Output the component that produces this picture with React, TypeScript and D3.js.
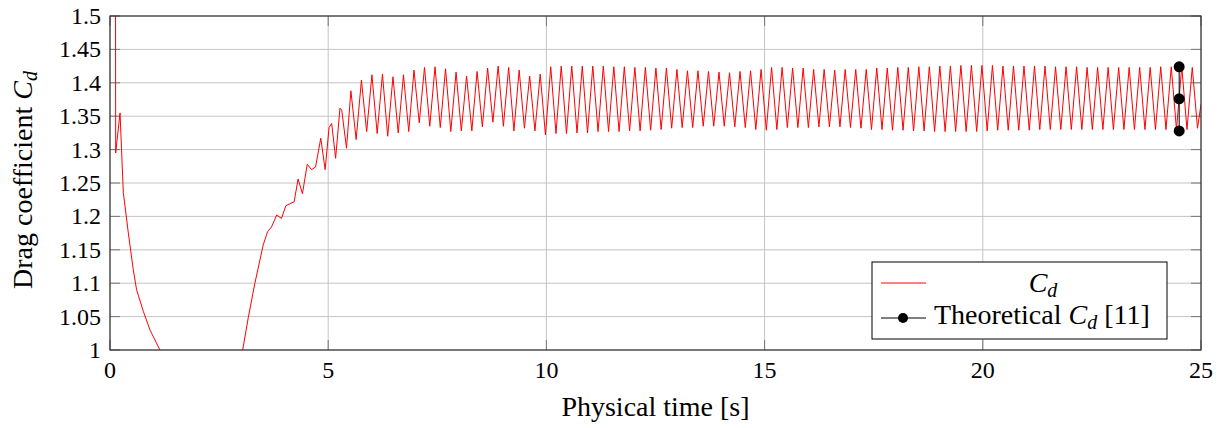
import React from 'react';
import * as d3 from 'd3';

// start-up transient
const transientTime = [0.12, 0.13, 0.23, 0.305, 0.42, 0.534, 0.61, 0.763, 0.916, 1.145, 2.1, 3.04, 3.17, 3.32, 3.51, 3.61, 3.7, 3.82, 3.93, 4.03, 4.22, 4.31, 4.41, 4.52, 4.62, 4.71, 4.83, 4.93, 5.02, 5.08, 5.17, 5.27, 5.31, 5.42];
const transientCd = [2.0, 1.295, 1.355, 1.236, 1.175, 1.12, 1.09, 1.058, 1.03, 1.0, 0.9, 1.0, 1.049, 1.1, 1.157, 1.177, 1.184, 1.202, 1.197, 1.216, 1.222, 1.256, 1.234, 1.278, 1.27, 1.274, 1.317, 1.27, 1.333, 1.339, 1.287, 1.362, 1.359, 1.302];

// shedding cycles: one peak and one trough per cycle
const oscStart = 5.52;
const oscPeriod = 0.241;
const cdPeaks = [
  1.388, 1.404, 1.412, 1.413, 1.409, 1.412, 1.419, 1.423, 1.424, 1.421,
  1.416, 1.41, 1.417, 1.422, 1.425, 1.423, 1.419, 1.41, 1.413, 1.424,
  1.425, 1.425, 1.425, 1.425, 1.425, 1.424, 1.424, 1.423, 1.423, 1.422,
  1.422, 1.42, 1.418, 1.418, 1.417, 1.416, 1.415, 1.417, 1.418, 1.42,
  1.423, 1.423, 1.422, 1.422, 1.42, 1.42, 1.419, 1.42, 1.42, 1.42,
  1.422, 1.422, 1.423, 1.423, 1.424, 1.424, 1.425, 1.425, 1.426, 1.426,
  1.426, 1.426, 1.425, 1.425, 1.425, 1.425, 1.425, 1.424, 1.424, 1.424,
  1.423, 1.423, 1.423, 1.423, 1.423, 1.423, 1.423, 1.424, 1.424, 1.424,
  1.423,
];
const cdTroughs = [
  1.315, 1.327, 1.324, 1.32, 1.325, 1.327, 1.34, 1.335, 1.333, 1.327,
  1.328, 1.328, 1.334, 1.341, 1.335, 1.328, 1.332, 1.328, 1.322, 1.324,
  1.324, 1.325, 1.325, 1.327, 1.327, 1.327, 1.328, 1.328, 1.329, 1.33,
  1.332, 1.333, 1.333, 1.335, 1.335, 1.335, 1.334, 1.333, 1.33, 1.329,
  1.33, 1.333, 1.333, 1.333, 1.334, 1.334, 1.334, 1.333, 1.332, 1.33,
  1.33, 1.329, 1.329, 1.328, 1.328, 1.327, 1.327, 1.327, 1.327, 1.327,
  1.328, 1.329, 1.329, 1.329, 1.329, 1.33, 1.33, 1.33, 1.33, 1.33,
  1.33, 1.33, 1.33, 1.33, 1.33, 1.33, 1.33, 1.33, 1.33, 1.33,
  1.332,
];
const endTime = 25;
const endCd = 1.368;

const theoryTime = 24.5;
const theoryCd = [1.328, 1.376, 1.424];

const xTicks = [0, 5, 10, 15, 20, 25];
const yTicks = [1, 1.05, 1.1, 1.15, 1.2, 1.25, 1.3, 1.35, 1.4, 1.45, 1.5];
const yTickLabels = ['1', '1.05', '1.1', '1.15', '1.2', '1.25', '1.3', '1.35', '1.4', '1.45', '1.5'];

const W = 1227;
const H = 428;
const left = 110;
const right = 1201;
const top = 16;
const bottom = 350;
const font = '"Liberation Serif", "Times New Roman", serif';

export default function App() {
  const x = d3.scaleLinear().domain([0, 25]).range([left, right]);
  const y = d3.scaleLinear().domain([1, 1.5]).range([bottom, top]);

  const points: [number, number][] = transientTime.map((t, i) => [t, transientCd[i]]);
  cdPeaks.forEach((p, k) => {
    points.push([oscStart + k * oscPeriod, p]);
    points.push([oscStart + (k + 0.5) * oscPeriod, cdTroughs[k]]);
  });
  points.push([endTime, endCd]);

  const line = d3.line<[number, number]>().x(d => x(d[0])).y(d => y(d[1]));
  const tickLen = 10;
  const txt = { fontFamily: font, fill: '#000' };

  return (
    <svg width={W} height={H} style={{ position: 'absolute', left: 0, top: 0, background: '#fff' }}>
      <defs>
        <clipPath id="plot">
          <rect x={left} y={top} width={right - left} height={bottom - top} />
        </clipPath>
      </defs>

      {/* grid */}
      {xTicks.map(t => (
        <line key={'gx' + t} x1={x(t)} x2={x(t)} y1={top} y2={bottom} stroke="#c4c4c4" strokeWidth={1} />
      ))}
      {yTicks.map(v => (
        <line key={'gy' + v} x1={left} x2={right} y1={y(v)} y2={y(v)} stroke="#c4c4c4" strokeWidth={1} />
      ))}

      {/* ticks */}
      {xTicks.map(t => (
        <g key={'tx' + t} stroke="#777" strokeWidth={1}>
          <line x1={x(t)} x2={x(t)} y1={bottom} y2={bottom - tickLen} />
          <line x1={x(t)} x2={x(t)} y1={top} y2={top + tickLen} />
        </g>
      ))}
      {yTicks.map(v => (
        <g key={'ty' + v} stroke="#777" strokeWidth={1}>
          <line x1={left} x2={left + tickLen} y1={y(v)} y2={y(v)} />
          <line x1={right} x2={right - tickLen} y1={y(v)} y2={y(v)} />
        </g>
      ))}

      {/* drag coefficient */}
      <path d={line(points) ?? ''} fill="none" stroke="#ff0000" strokeWidth={1} strokeLinejoin="round" clipPath="url(#plot)" />

      {/* theoretical value */}
      <line x1={x(theoryTime)} x2={x(theoryTime)} y1={y(theoryCd[0])} y2={y(theoryCd[2])} stroke="#000" strokeWidth={1} />
      {theoryCd.map(v => (
        <circle key={'th' + v} cx={x(theoryTime)} cy={y(v)} r={5.5} fill="#000" />
      ))}

      {/* frame */}
      <rect x={left} y={top} width={right - left} height={bottom - top} fill="none" stroke="#333" strokeWidth={1.2} />

      {/* tick labels */}
      {xTicks.map(t => (
        <text key={'lx' + t} x={x(t)} y={378} textAnchor="middle" fontSize={24} style={txt}>{t}</text>
      ))}
      {yTicks.map((v, i) => (
        <text key={'ly' + v} x={101} y={y(v) + 8} textAnchor="end" fontSize={24} style={txt}>{yTickLabels[i]}</text>
      ))}

      {/* axis labels */}
      <text x={(left + right) / 2} y={416} textAnchor="middle" fontSize={28} style={txt}>Physical time [s]</text>
      <text transform={`translate(32,${(top + bottom) / 2 - 3}) rotate(-90)`} textAnchor="middle" fontSize={28} style={txt}>
        Drag coefficient <tspan fontStyle="italic">C</tspan><tspan fontStyle="italic" fontSize={20} dy={5}>d</tspan>
      </text>

      {/* legend */}
      <g>
        <rect x={872} y={262} width={295} height={77} fill="#fff" stroke="#000" strokeWidth={1} />
        <line x1={881} x2={926} y1={283} y2={283} stroke="#ff0000" strokeWidth={1} />
        <text x={1043} y={292} textAnchor="middle" fontSize={28} style={txt}>
          <tspan fontStyle="italic">C</tspan><tspan fontStyle="italic" fontSize={20} dy={5}>d</tspan>
        </text>
        <line x1={881} x2={926} y1={318} y2={318} stroke="#000" strokeWidth={1} />
        <circle cx={903} cy={318} r={5} fill="#000" />
        <text x={934} y={324} fontSize={28} style={txt}>
          Theoretical <tspan fontStyle="italic">C</tspan><tspan fontStyle="italic" fontSize={20} dy={5}>d</tspan><tspan dy={-5}> [11]</tspan>
        </text>
      </g>
    </svg>
  );
}
